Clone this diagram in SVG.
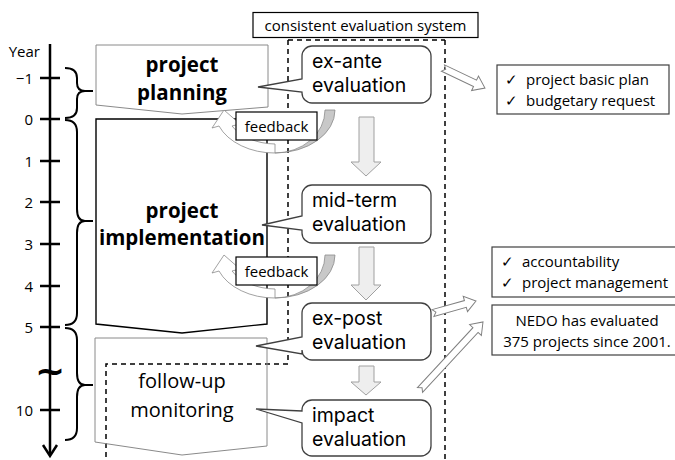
<svg xmlns="http://www.w3.org/2000/svg" width="675" height="460" viewBox="0 0 675 460">
<defs>
<style>
text{font-family:"Open Sans","Noto Sans","Liberation Sans",sans-serif;fill:#000}
.ax{font-size:15px;text-anchor:end;dominant-baseline:central}
.tk{stroke:#000;stroke-width:2.5;fill:none}
.br{stroke:#000;stroke-width:2;fill:none}
.big{font-size:20.5px;font-weight:bold;text-anchor:middle}
.mid{font-size:20px;text-anchor:middle}
.ev{font-family:Inter,"Open Sans",sans-serif;font-size:19.5px}
.sm{font-size:15px}
.call{fill:#fff;stroke:#404040;stroke-width:1.3}
.dash{fill:none;stroke:#000;stroke-width:1.5;stroke-dasharray:5,4}
.blk{fill:#eeeeee;stroke:#a0a0a0;stroke-width:1}
.hol{fill:#fff;stroke:#808080;stroke-width:1}
.box{fill:#fff;stroke:#404040;stroke-width:1.2}
</style>
</defs>

<g id="axis">
<line x1="50" y1="44" x2="50" y2="455" class="tk"/>
<polyline points="43,445 50,456 57,445" class="tk"/>
<text x="40" y="51" class="ax">Year</text>
<line x1="40" y1="78" x2="60" y2="78" class="tk"/><text x="33" y="78" class="ax">−1</text>
<line x1="40" y1="119" x2="60" y2="119" class="tk"/><text x="33" y="119" class="ax">0</text>
<line x1="40" y1="161" x2="60" y2="161" class="tk"/><text x="33" y="161" class="ax">1</text>
<line x1="40" y1="202" x2="60" y2="202" class="tk"/><text x="33" y="202" class="ax">2</text>
<line x1="40" y1="244" x2="60" y2="244" class="tk"/><text x="33" y="244" class="ax">3</text>
<line x1="40" y1="286" x2="60" y2="286" class="tk"/><text x="33" y="286" class="ax">4</text>
<line x1="40" y1="327" x2="60" y2="327" class="tk"/><text x="33" y="327" class="ax">5</text>
<line x1="40" y1="410" x2="60" y2="410" class="tk"/><text x="33" y="410" class="ax">10</text>
<text x="50" y="383" style="font-family:'DejaVu Sans',sans-serif;font-size:36px;font-weight:bold;text-anchor:middle">~</text>
</g>

<g id="braces">
<path class="br" d="M65,68 Q77,68 77,78 L77,83 Q77,91 85,91 L93,91 M85,91 Q77,91 77,99 L77,108 Q77,118 65,118"/>
<path class="br" d="M65,120 Q77,120 77,132 L77,209 Q77,221 85,221 L93,221 M85,221 Q77,221 77,233 L77,313 Q77,325 65,325"/>
<path class="br" d="M65,328 Q77,328 77,340 L77,373 Q77,385 85,385 L93,385 M85,385 Q77,385 77,397 L77,428 Q77,440 65,440"/>
</g>

<g id="connectors">
<path class="dash" d="M288,40 L445,40 M288,40 L288,364 L106,364 L106,460 M445,40 L445,460"/>
<path class="blk" d="M359,117 L374,117 L374,162 L381,162 L366,176 L351,162 L359,162 Z"/>
<path class="blk" d="M359,247 L374,247 L374,285 L381,285 L366,300 L351,285 L359,285 Z"/>
<path class="blk" d="M359,366 L374,366 L374,382 L381,382 L366,395 L351,382 L359,382 Z"/>
<path class="hol" transform="translate(443,68) rotate(25.5)" d="M0,-3.5 L35.5,-3.5 L35.5,-8 L46.5,0 L35.5,8 L35.5,3.5 L0,3.5 L3,0 Z"/>
<path class="hol" transform="translate(433,313) rotate(-15.6)" d="M0,-3.5 L33.6,-3.5 L33.6,-8 L44.6,0 L33.6,8 L33.6,3.5 L0,3.5 L3,0 Z"/>
<path class="hol" transform="translate(420,390) rotate(-47.2)" d="M0,-3.5 L81.7,-3.5 L81.7,-8 L92.7,0 L81.7,8 L81.7,3.5 L0,3.5 L3,0 Z"/>
</g>

<g id="system-label">
<rect x="253" y="12.5" width="225" height="25" fill="#fff" stroke="#000" stroke-width="1.2"/>
<text x="365.5" y="31" class="sm" text-anchor="middle">consistent evaluation system</text>
</g>

<g id="planning">
<polygon points="96,45 268,45 268,107 182,114 96,105" fill="#fff" stroke="#8a8a8a" stroke-width="1"/>
<text x="182" y="72" class="big">project</text>
<text x="182" y="100" class="big">planning</text>
</g>

<g id="implementation">
<polygon points="96,119 267,119 267,324 182,333 96,324" fill="#fff" stroke="#000" stroke-width="1.4"/>
<text x="182" y="218" class="big">project</text>
<text x="182" y="245" class="big">implementation</text>
</g>

<g id="followup">
<polygon points="95,338 267,338 267,446 182,455 95,442" fill="none" stroke="#8a8a8a" stroke-width="1"/>
<text x="182" y="388" class="mid">follow-up</text>
<text x="182" y="417" class="mid">monitoring</text>
</g>

<g id="feedback1">
<path d="M335,110 A60,43 0 0 1 275,153 A50,43 0 0 0 325,110 Z" fill="#c8c8c8" stroke="#8a8a8a" stroke-width="0.8"/>
<path d="M275,153 A60,43 0 0 1 219,126 L212,128 L224,110 L240,124 L232,126 A50,34 0 0 0 275,144 Z" fill="#fff" stroke="#8a8a8a" stroke-width="0.8"/>
<rect x="236" y="112" width="81" height="28" fill="#fff" stroke="#000" stroke-width="1.2"/>
<text x="276.5" y="131.5" class="sm" text-anchor="middle">feedback</text>
</g>

<g id="feedback2">
<path d="M335,255 A60,43 0 0 1 275,298 A50,43 0 0 0 325,255 Z" fill="#c8c8c8" stroke="#8a8a8a" stroke-width="0.8"/>
<path d="M275,298 A60,43 0 0 1 219,271 L212,273 L224,255 L240,269 L232,271 A50,34 0 0 0 275,289 Z" fill="#fff" stroke="#8a8a8a" stroke-width="0.8"/>
<rect x="236" y="257" width="81" height="28" fill="#fff" stroke="#000" stroke-width="1.2"/>
<text x="276.5" y="276.5" class="sm" text-anchor="middle">feedback</text>
</g>

<g id="ex-ante">
<path class="call" d="M312,46 H421 A10,10 0 0 1 431,56 V93 A10,10 0 0 1 421,103 H312 A10,10 0 0 1 302,93 V92 L258,87 L302,79 V56 A10,10 0 0 1 312,46 Z"/>
<text x="312" y="67.5" class="ev">ex-ante</text>
<text x="312" y="91.5" class="ev">evaluation</text>
</g>

<g id="mid-term">
<path class="call" d="M312,185 H421 A10,10 0 0 1 431,195 V233 A10,10 0 0 1 421,243 H312 A10,10 0 0 1 302,233 V230 L262,225 L302,216 V195 A10,10 0 0 1 312,185 Z"/>
<text x="312" y="206.5" class="ev">mid-term</text>
<text x="312" y="230.5" class="ev">evaluation</text>
</g>

<g id="ex-post">
<path class="call" d="M312,303 H421 A10,10 0 0 1 431,313 V350 A10,10 0 0 1 421,360 H312 A10,10 0 0 1 302,350 V354 L256,346 L302,337 V313 A10,10 0 0 1 312,303 Z"/>
<text x="312" y="324.5" class="ev">ex-post</text>
<text x="312" y="348.5" class="ev">evaluation</text>
</g>

<g id="impact">
<path class="call" d="M312,400 H421 A10,10 0 0 1 431,410 V446 A10,10 0 0 1 421,456 H312 A10,10 0 0 1 302,446 V423 L256,409 L302,411 V410 A10,10 0 0 1 312,400 Z"/>
<text x="312" y="421.5" class="ev">impact</text>
<text x="312" y="445.5" class="ev">evaluation</text>
</g>

<g id="plan-box">
<rect x="497" y="65" width="172" height="49" class="box"/>
<text x="505" y="85" class="sm">✓</text><text x="526" y="85" class="sm">project basic plan</text>
<text x="505" y="106" class="sm">✓</text><text x="526" y="106" class="sm">budgetary request</text>
</g>

<g id="account-box">
<rect x="492" y="247" width="190" height="50" class="box"/>
<text x="501" y="267" class="sm">✓</text><text x="522" y="267" class="sm">accountability</text>
<text x="501" y="288" class="sm">✓</text><text x="522" y="288" class="sm">project management</text>
</g>

<g id="nedo-box">
<rect x="492" y="305" width="190" height="50" class="box"/>
<text x="587" y="326" class="sm" text-anchor="middle">NEDO has evaluated</text>
<text x="587" y="347" class="sm" text-anchor="middle">375 projects since 2001.</text>
</g>
</svg>
